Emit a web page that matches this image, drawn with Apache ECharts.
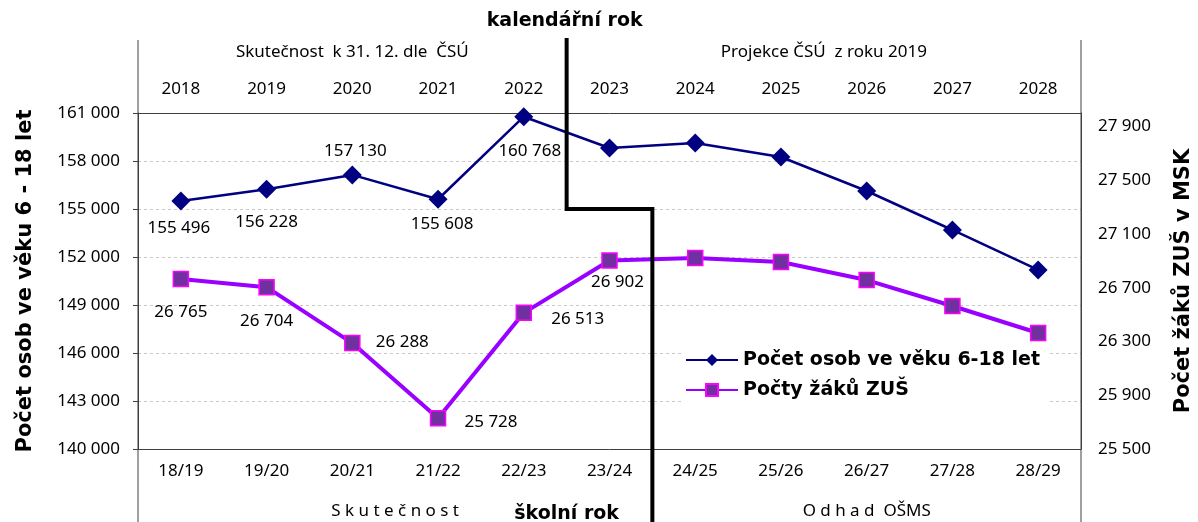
<!DOCTYPE html>
<html>
<head>
<meta charset="utf-8">
<script src="https://cdn.jsdelivr.net/npm/echarts@6/dist/echarts.min.js"></script>
<style>
  html, body { margin: 0; padding: 0; background: #fff; }
  #main { width: 1198px; height: 522px; }
</style>
</head>
<body>
<div id="main"></div>
<script>
var years = ['2018', '2019', '2020', '2021', '2022', '2023', '2024', '2025', '2026', '2027', '2028'];
var schoolYears = ['18/19', '19/20', '20/21', '21/22', '22/23', '23/24', '24/25', '25/26', '26/27', '27/28', '28/29'];
// počet osob 6-18 let (levá osa)
var osoby = [155496, 156228, 157130, 155608, 160768, 158813, 159125, 158250, 156125, 153688, 151188];
// počty žáků ZUŠ (pravá osa)
var zaci = [26765, 26704, 26288, 25728, 26513, 26902, 26921, 26891, 26757, 26564, 26363];
var rightTicks = [25500, 25900, 26300, 26700, 27100, 27500, 27900];

var osobyLabelOffset = [[-2, 27], [0, 33], [3, -24], [4, 25], [6, 34]];
var zaciLabelOffset = [[0, 33], [0, 34], [50, -1], [53, 4], [54, 6], [8, 22]];

var FONT = 'Noto Sans';
var BOLD = 'DejaVu Sans';
var AXIS_COLOR = '#404040';

function fmt(v) {
  return String(v).replace(/\B(?=(\d{3})+(?!\d))/g, ' ');
}

function withLabels(values, offsets) {
  return values.map(function (v, i) {
    if (i < offsets.length) {
      return {value: v, label: {show: true, offset: offsets[i]}};
    }
    return v;
  });
}

var chart = echarts.init(document.getElementById('main'));

var option = {
  animation: false,
  backgroundColor: '#fff',
  textStyle: {fontFamily: FONT},
  grid: {left: 138, right: 117, top: 113, bottom: 73, containLabel: false, outerBoundsMode: 'none'},
  legend: {
    orient: 'vertical',
    left: 682,
    top: 345,
    itemWidth: 52,
    itemHeight: 15,
    itemGap: 8,
    backgroundColor: '#fff',
    padding: [4, 8, 4, 3],
    textStyle: {fontFamily: BOLD, fontSize: 19, fontWeight: 'bold', color: '#000', lineHeight: 22},
    data: ['Počet osob ve věku 6-18 let', 'Počty žáků ZUŠ']
  },
  xAxis: [
    {
      type: 'category',
      data: schoolYears,
      position: 'bottom',
      axisLine: {lineStyle: {color: AXIS_COLOR, width: 1}},
      axisTick: {length: 37, lineStyle: {color: AXIS_COLOR}},
      axisLabel: {margin: 14, color: '#000', fontSize: 17, fontFamily: FONT}
    },
    {
      type: 'category',
      data: years,
      position: 'top',
      axisLine: {lineStyle: {color: AXIS_COLOR, width: 1}},
      axisTick: {length: 36, lineStyle: {color: AXIS_COLOR}},
      axisLabel: {margin: 15, color: '#000', fontSize: 17, fontFamily: FONT}
    }
  ],
  yAxis: [
    {
      type: 'value',
      min: 140000,
      max: 161000,
      interval: 3000,
      position: 'left',
      name: 'Počet osob ve věku 6 - 18 let',
      nameLocation: 'middle',
      nameGap: 102,
      nameTextStyle: {fontFamily: BOLD, fontSize: 21, fontWeight: 'bold', color: '#000'},
      axisLine: {show: true, lineStyle: {color: AXIS_COLOR}},
      axisTick: {show: true, length: 5, lineStyle: {color: AXIS_COLOR}},
      axisLabel: {margin: 18, color: '#000', fontSize: 17, fontFamily: FONT, formatter: fmt},
      splitLine: {show: true, lineStyle: {color: '#c8c8c8', type: [3, 3]}}
    },
    {
      type: 'value',
      min: 25500,
      max: 28000,
      position: 'right',
      name: 'Počet žáků ZUŠ v MSK',
      nameLocation: 'middle',
      nameGap: 92,
      nameTextStyle: {fontFamily: BOLD, fontSize: 21, fontWeight: 'bold', color: '#000'},
      axisLine: {show: true, lineStyle: {color: AXIS_COLOR}},
      axisTick: {show: false},
      axisLabel: {margin: 17, color: '#000', fontSize: 17, fontFamily: FONT, formatter: fmt, customValues: rightTicks},
      splitLine: {show: false}
    }
  ],
  series: [
    {
      name: 'Počet osob ve věku 6-18 let',
      type: 'line',
      xAxisIndex: 0,
      yAxisIndex: 0,
      data: withLabels(osoby, osobyLabelOffset),
      symbol: 'diamond',
      symbolSize: [19, 19],
      lineStyle: {color: '#000080', width: 2.5},
      itemStyle: {color: '#000080'},
      label: {show: false, position: 'inside', color: '#000', fontSize: 17, fontFamily: FONT, formatter: function (p) { return fmt(p.value); }},
      z: 3
    },
    {
      name: 'Počty žáků ZUŠ',
      type: 'line',
      xAxisIndex: 0,
      yAxisIndex: 1,
      data: withLabels(zaci, zaciLabelOffset),
      symbol: 'rect',
      symbolSize: 15,
      lineStyle: {color: '#9900ff', width: 4},
      itemStyle: {color: '#7030a0', borderColor: '#ff00ff', borderWidth: 1.5},
      label: {show: false, position: 'inside', color: '#000', fontSize: 17, fontFamily: FONT, formatter: function (p) { return fmt(p.value); }},
      z: 3
    }
  ]
};

chart.setOption(option);

// dělící čáry a popisky hlavičky / patičky
var xl = chart.convertToPixel({xAxisIndex: 0}, 0);
var step = chart.convertToPixel({xAxisIndex: 0}, 1) - xl;
var left = xl - step / 2;
var right = left + step * years.length;
var xCal = left + step * 5;     // hranice 2022 / 2023
var xSchool = left + step * 6;  // hranice 23/24 / 24/25
var yStep = chart.convertToPixel({yAxisIndex: 0}, 155000);

function vline(x, y1, y2) {
  return {type: 'line', shape: {x1: x, y1: y1, x2: x, y2: y2}, style: {stroke: AXIS_COLOR, lineWidth: 1}, z: 10};
}
function txt(x, y, s, bold) {
  return {
    type: 'text', x: x, y: y, z: 11,
    style: {
      text: s, fill: '#000', align: 'center', verticalAlign: 'middle',
      font: bold ? 'bold 19px "' + BOLD + '"' : '17px "' + FONT + '"'
    }
  };
}

chart.setOption({
  graphic: [
    vline(left, 40, 522),
    vline(right, 40, 522),
    {type: 'polyline', z: 10, shape: {points: [[xCal, 38], [xCal, yStep], [xSchool, yStep], [xSchool, 522]]}, style: {stroke: '#000', lineWidth: 4, fill: null}},
    txt(xCal - 2, 21, 'kalendářní rok', true),
    txt((left + xCal) / 2, 52, 'Skutečnost  k 31. 12. dle  ČSÚ', false),
    txt((xCal + right) / 2, 52, 'Projekce ČSÚ  z roku 2019', false),
    txt((left + xSchool) / 2, 511, 'S k u t e č n o s t', false),
    txt(xCal, 514, 'školní rok', true),
    txt((xSchool + right) / 2, 511, 'O d h a d  OŠMS', false)
  ]
});
</script>
</body>
</html>
